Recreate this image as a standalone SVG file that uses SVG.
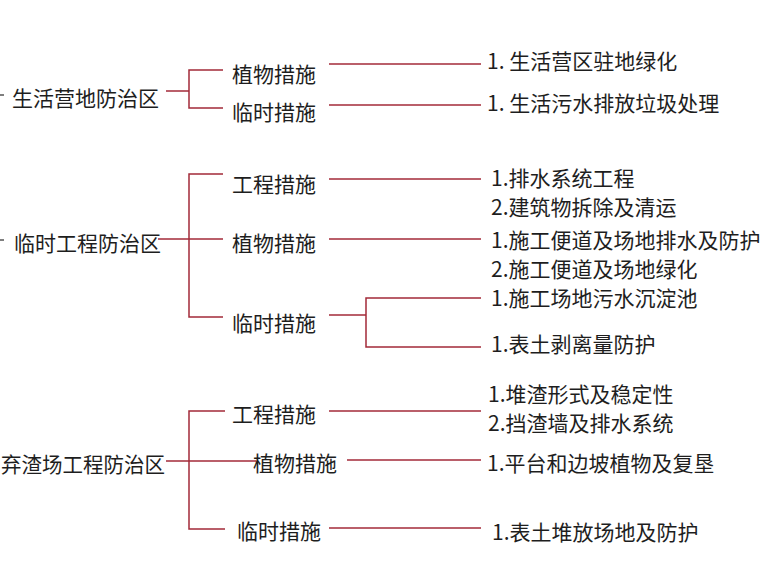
<svg xmlns="http://www.w3.org/2000/svg" width="780" height="585" viewBox="0 0 780 585">
<style>
text{font-family:"Noto Sans CJK SC","Liberation Sans",sans-serif;font-size:21px;fill:#1e1e1e;dominant-baseline:central}
.c line,.c path{stroke:#a32a38;stroke-width:1.5;fill:none}
.s{stroke:#555;stroke-width:1.5}
</style>
<rect width="780" height="585" fill="#fff"/>
<g class="c" id="connectors">
<line x1="166" y1="91" x2="189" y2="91"/>
<path d="M223 70H189V108H223"/>
<line x1="329" y1="64" x2="481" y2="64"/>
<line x1="329" y1="105" x2="481" y2="105"/>
<line x1="158" y1="239" x2="223" y2="239"/>
<path d="M223 174H189V317H223"/>
<line x1="329" y1="179" x2="481" y2="179"/>
<line x1="329" y1="239" x2="481" y2="239"/>
<line x1="329" y1="315" x2="366" y2="315"/>
<path d="M481 298H366V347H481"/>
<line x1="166" y1="461" x2="256" y2="461"/>
<path d="M225 411H189V529H225"/>
<line x1="329" y1="411" x2="481" y2="411"/>
<line x1="347" y1="460" x2="481" y2="460"/>
<line x1="329" y1="528" x2="481" y2="528"/>
</g>
<line class="s" x1="0" y1="95" x2="4" y2="95"/>
<line class="s" x1="0" y1="240" x2="4" y2="240"/>
<g id="zone1"><text x="12" y="97">生活营地防治区</text></g>
<g id="z1-plant"><text x="232" y="73">植物措施</text></g>
<g id="z1-temp"><text x="232" y="111">临时措施</text></g>
<g id="z1-r1"><text x="487" y="60">1. 生活营区驻地绿化</text></g>
<g id="z1-r2"><text x="487" y="102">1. 生活污水排放垃圾处理</text></g>
<g id="zone2"><text x="14" y="242">临时工程防治区</text></g>
<g id="z2-eng"><text x="232" y="183">工程措施</text></g>
<g id="z2-plant"><text x="232" y="242">植物措施</text></g>
<g id="z2-temp"><text x="232" y="322">临时措施</text></g>
<g id="z2-r1"><text x="491" y="177">1.排水系统工程</text><text x="491" y="206">2.建筑物拆除及清运</text></g>
<g id="z2-r2"><text x="491" y="239">1.施工便道及场地排水及防护</text><text x="491" y="268">2.施工便道及场地绿化</text></g>
<g id="z2-r3"><text x="491" y="297">1.施工场地污水沉淀池</text></g>
<g id="z2-r4"><text x="491" y="343">1.表土剥离量防护</text></g>
<g id="zone3"><text x="1" y="463" textLength="164" lengthAdjust="spacingAndGlyphs">弃渣场工程防治区</text></g>
<g id="z3-eng"><text x="232" y="413">工程措施</text></g>
<g id="z3-plant"><text x="253" y="462">植物措施</text></g>
<g id="z3-temp"><text x="237" y="530">临时措施</text></g>
<g id="z3-r1"><text x="488" y="393">1.堆渣形式及稳定性</text><text x="488" y="422">2.挡渣墙及排水系统</text></g>
<g id="z3-r2"><text x="487" y="462">1.平台和边坡植物及复垦</text></g>
<g id="z3-r3"><text x="492" y="531">1.表土堆放场地及防护</text></g>
</svg>
